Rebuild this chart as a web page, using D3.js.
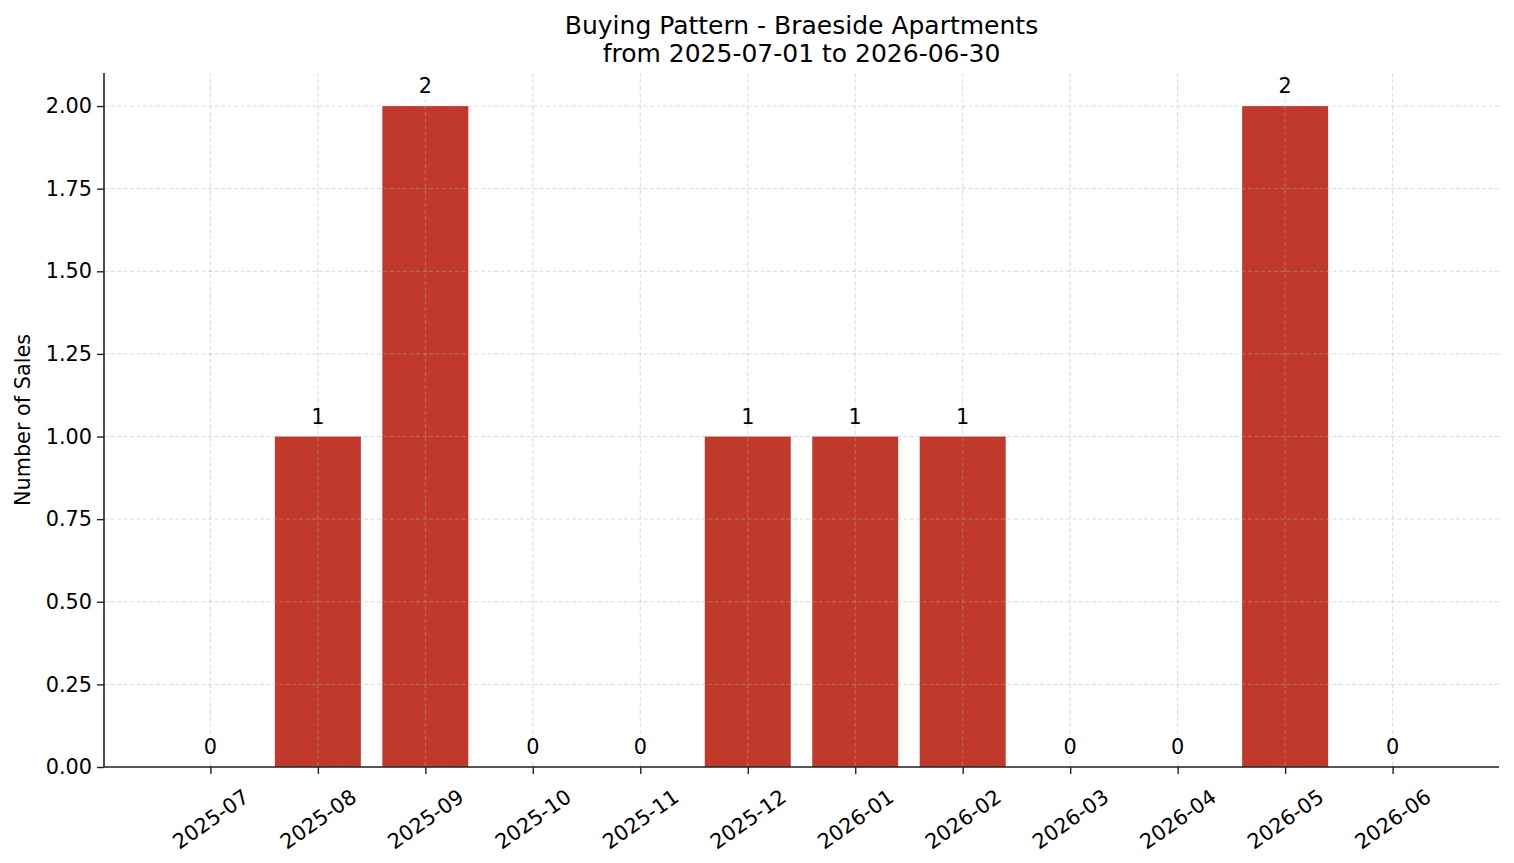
<!DOCTYPE html>
<html>
<head>
<meta charset="utf-8">
<script src="https://cdn.jsdelivr.net/npm/d3@7"></script>
<style>
  body { margin: 0; background: #fff; }
  svg { display: block; font-family: "DejaVu Sans", sans-serif; }
  .grid line { stroke: #b0b0b0; stroke-opacity: 0.6; stroke-width: 0.8; stroke-dasharray: 4 2.5; }
</style>
</head>
<body>
<svg id="chart" width="1514" height="863"></svg>
<script>
const months = ["2025-07", "2025-08", "2025-09", "2025-10", "2025-11", "2025-12",
                "2026-01", "2026-02", "2026-03", "2026-04", "2026-05", "2026-06"];
const sales = [0, 1, 2, 0, 0, 1, 1, 1, 0, 0, 2, 0];
const yTicks = [0, 0.25, 0.5, 0.75, 1.0, 1.25, 1.5, 1.75, 2.0];

const margin = { left: 104, right: 15, top: 73, bottom: 96 };
const W = 1514, H = 863;
const innerW = W - margin.left - margin.right;
const innerH = H - margin.top - margin.bottom;
const fs = 20.8;

const svg = d3.select("#chart");
const g = svg.append("g").attr("transform", `translate(${margin.left},${margin.top})`);

// index scale, bar width 0.8 like matplotlib
const x = d3.scaleLinear().domain([-0.99, months.length - 1 + 0.99]).range([0, innerW]);
const y = d3.scaleLinear().domain([0, 2.1]).range([innerH, 0]);
const barW = x(0.8) - x(0);

g.selectAll("rect.bar")
  .data(sales)
  .join("rect")
  .attr("class", "bar")
  .attr("x", (d, i) => x(i - 0.4))
  .attr("y", (d) => y(d))
  .attr("width", barW)
  .attr("height", (d) => y(0) - y(d))
  .attr("fill", "#c0392b");

// grid on top of bars
const grid = g.append("g").attr("class", "grid");
grid.selectAll("line.gy")
  .data(yTicks)
  .join("line")
  .attr("x1", 0).attr("x2", innerW)
  .attr("y1", (d) => y(d)).attr("y2", (d) => y(d));
grid.selectAll("line.gx")
  .data(months)
  .join("line")
  .attr("class", "gx")
  .attr("x1", (d, i) => x(i)).attr("x2", (d, i) => x(i))
  .attr("y1", 0).attr("y2", innerH);

// value labels
g.selectAll("text.val")
  .data(sales)
  .join("text")
  .attr("class", "val")
  .attr("x", (d, i) => x(i))
  .attr("y", (d) => y(d) - 13)
  .attr("text-anchor", "middle")
  .attr("font-size", fs)
  .attr("fill", "#000")
  .text((d) => d);

// y axis
const yAxis = g.append("g")
  .call(d3.axisLeft(y).tickValues(yTicks).tickFormat(d3.format(".2f")).tickSize(7).tickPadding(5));
yAxis.select(".domain").attr("stroke", "#222").attr("stroke-width", 1.6).attr("d", `M0,${innerH}V0`);
yAxis.selectAll(".tick line").attr("stroke", "#222").attr("stroke-width", 1.4);
yAxis.selectAll(".tick text").attr("font-size", fs).attr("fill", "#000")
  .attr("font-family", "DejaVu Sans");

// x axis
const xAxis = g.append("g")
  .attr("transform", `translate(0,${innerH})`)
  .call(d3.axisBottom(x).tickValues(d3.range(months.length)).tickFormat((i) => months[i]).tickSize(7));
xAxis.select(".domain").attr("stroke", "#222").attr("stroke-width", 1.6).attr("d", `M0,0H${innerW}`);
xAxis.selectAll(".tick line").attr("stroke", "#222").attr("stroke-width", 1.4);

const angle = 35;
const rad = angle * Math.PI / 180;
xAxis.selectAll(".tick text")
  .attr("font-size", fs)
  .attr("font-family", "DejaVu Sans")
  .attr("fill", "#000")
  .attr("text-anchor", "middle")
  .attr("dy", null)
  .attr("dominant-baseline", "central")
  .each(function () {
    const t = d3.select(this);
    const L = this.getComputedTextLength();
    const h = fs;
    const bh = L * Math.sin(rad) + h * Math.cos(rad);
    const cy = 7 + 12 + bh / 2;
    t.attr("y", 0).attr("transform", `translate(0,${cy}) rotate(${-angle})`);
  });

// y label
svg.append("text")
  .attr("transform", `translate(30,${margin.top + innerH / 2}) rotate(-90)`)
  .attr("text-anchor", "middle")
  .attr("font-size", fs)
  .attr("fill", "#000")
  .text("Number of Sales");

// title
const cx = margin.left + innerW / 2;
svg.append("text").attr("x", cx).attr("y", 34).attr("text-anchor", "middle")
  .attr("font-size", 25).attr("fill", "#000").text("Buying Pattern - Braeside Apartments");
svg.append("text").attr("x", cx).attr("y", 62).attr("text-anchor", "middle")
  .attr("font-size", 25).attr("fill", "#000").text("from 2025-07-01 to 2026-06-30");
</script>
</body>
</html>
